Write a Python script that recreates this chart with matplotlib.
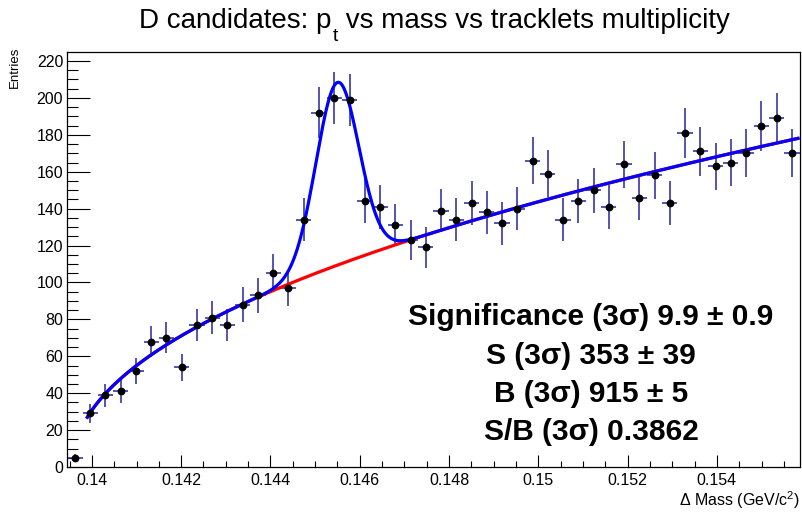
import numpy as np
import matplotlib
matplotlib.use("Agg")
import matplotlib.pyplot as plt
from matplotlib.ticker import MultipleLocator, FuncFormatter

plt.rcParams["font.family"] = ["Liberation Sans", "DejaVu Sans"]
plt.rcParams["mathtext.fontset"] = "custom"
plt.rcParams["mathtext.rm"] = "Liberation Sans"
plt.rcParams["mathtext.it"] = "Liberation Sans:italic"
plt.rcParams["mathtext.bf"] = "Liberation Sans:bold"

# Histogram of Delta-mass candidates (48 equal bins)
counts = [5, 29, 39, 41, 52, 68, 70, 54, 77, 81, 77, 88, 93, 105, 97, 134,
          192, 200, 199, 144, 141, 131, 123, 119, 139, 134, 143, 138, 132, 140,
          166, 159, 134, 144, 150, 141, 164, 146, 158, 143, 181, 171, 163, 165,
          170, 185, 189, 170]
mass_lo, mass_hi = 0.13945, 0.15585

# Fit: background a*(x - m_pi)^b plus gaussian signal
pion_mass = 0.13957
bkg_norm, bkg_power = 1306.0, 0.4836
sig_amp, sig_mean, sig_sigma = 99.0, 0.14550, 0.00048
fit_lo, fit_hi = 0.13988, 0.15585

x_ticks = [0.140, 0.142, 0.144, 0.146, 0.148, 0.150, 0.152, 0.154]
y_ticks = [0, 20, 40, 60, 80, 100, 120, 140, 160, 180, 200, 220]

stats_lines = ["Significance (3σ) 9.9 ± 0.9",
               "S (3σ) 353 ± 39",
               "B (3σ) 915 ± 5",
               "S/B (3σ) 0.3862"]

W, H = 803, 513
fig = plt.figure(figsize=(W / 100, H / 100), dpi=100)
ax = fig.add_axes([67.3 / W, 46 / H, 732.2 / W, 415 / H])

counts_arr = np.array(counts, dtype=float)
nbins = len(counts)
edges = np.linspace(mass_lo, mass_hi, nbins + 1)
centers = 0.5 * (edges[:-1] + edges[1:])
half_w = 0.5 * (edges[1] - edges[0])

ax.errorbar(centers, counts_arr, yerr=np.sqrt(counts_arr), xerr=half_w,
            fmt="none", ecolor="#26269e", elinewidth=1.1, capsize=0, zorder=2)


def background(x):
    return bkg_norm * np.power(x - pion_mass, bkg_power)


def total(x):
    return background(x) + sig_amp * np.exp(-0.5 * ((x - sig_mean) / sig_sigma) ** 2)


xf = np.linspace(fit_lo, fit_hi, 800)
ax.plot(xf, background(xf), color="#ff0000", lw=2.3, zorder=3,
        solid_capstyle="butt")
ax.plot(xf, total(xf), color="#0000ff", lw=2.3, zorder=4,
        solid_capstyle="butt")
ax.plot(centers, counts_arr, "o", color="black", ms=4.6, zorder=5)

ax.set_xlim(mass_lo, mass_hi)
ax.set_ylim(0, 224.9)

ax.set_xticks(x_ticks)
ax.xaxis.set_major_formatter(FuncFormatter(lambda v, p: "%g" % round(v, 4)))
ax.xaxis.set_minor_locator(MultipleLocator(0.0005))
ax.set_yticks(y_ticks)
ax.yaxis.set_minor_locator(MultipleLocator(5))

ax.tick_params(axis="y", which="major", direction="in", length=16.3,
               width=0.8, labelsize=11.5, pad=3)
ax.tick_params(axis="y", which="minor", direction="in", length=8.2, width=0.8)
ax.tick_params(axis="x", which="major", direction="in", length=9.0,
               width=0.8, labelsize=11.5, pad=4)
ax.tick_params(axis="x", which="minor", direction="in", length=4.5, width=0.8)
for s in ax.spines.values():
    s.set_linewidth(0.9)

# Title assembled in pieces so the subscript sits low, as in ROOT
title_y = 1 - 28 / H
t1 = fig.text(0, title_y, "D candidates: p", ha="left", va="baseline", fontsize=20)
t2 = fig.text(0, title_y, "t", ha="left", va="baseline", fontsize=14)
t3 = fig.text(0, title_y, " vs mass vs tracklets multiplicity", ha="left",
              va="baseline", fontsize=20)
renderer = fig.canvas.get_renderer()
w1 = t1.get_window_extent(renderer).width
w2 = t2.get_window_extent(renderer).width
w3 = t3.get_window_extent(renderer).width
x0 = 434 - (w1 + w2 + w3) / 2
t1.set_x(x0 / W)
t2.set_x((x0 + w1 + 1) / W)
t2.set_y(1 - 41 / H)
t3.set_x((x0 + w1 + w2 + 1) / W)

fig.text(15 / W, 1 - 47 / H, "Entries", rotation=90, ha="center", va="top",
         fontsize=9.5)
fig.text(800 / W, 1 - 506 / H, r"Δ Mass (GeV/$\mathregular{c^2}$)",
         ha="right", va="baseline", fontsize=11.5)

baselines = [325, 364, 402, 440]
for line, yb in zip(stats_lines, baselines):
    fig.text(591 / W, 1 - yb / H, line, ha="center", va="baseline",
             fontsize=21.5, fontweight="bold")

fig.savefig("out.png", dpi=100)
